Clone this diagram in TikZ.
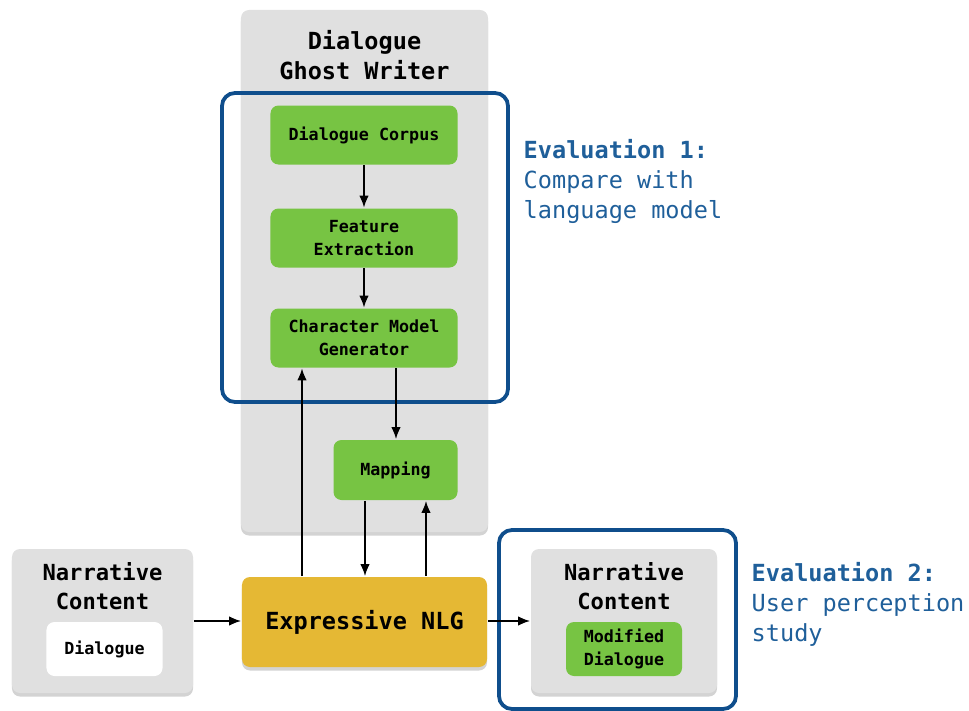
\documentclass[tikz,border=0pt]{standalone}
\usepackage{fontspec}
\setmonofont{DejaVu Sans Mono}
\usetikzlibrary{arrows.meta,shadows}
\definecolor{gwgray}{HTML}{E0E0E0}
\definecolor{stagegreen}{HTML}{77C443}
\definecolor{nlgyellow}{HTML}{E5B834}
\definecolor{evalblue}{HTML}{0F4E8C}
\definecolor{evaltxt}{HTML}{1F5F9A}
\newcommand{\bigmono}{\ttfamily\bfseries\fontsize{13.4}{17}\selectfont}
\newcommand{\midmono}{\ttfamily\bfseries\fontsize{12.6}{16.5}\selectfont}
\newcommand{\smallmono}{\ttfamily\bfseries\fontsize{9.5}{13}\selectfont}

\begin{document}
\begin{tikzpicture}[x=0.2mm,y=-0.2mm,line width=0.35mm,>={Latex[length=2.4mm,width=1.9mm]},
  box/.style={rounded corners=1.6mm,align=center,inner sep=0pt},
  grp/.style={box,fill=gwgray,drop shadow={shadow xshift=0mm,shadow yshift=-0.7mm,opacity=0.35}},
  stage/.style={box,fill=stagegreen,font=\smallmono,minimum width=37.4mm,minimum height=11.8mm},
  evalbox/.style={draw=evalblue,line width=0.75mm,rounded corners=2.6mm},
  evaltext/.style={anchor=west,align=left,text=evaltxt,font=\ttfamily\fontsize{13.4}{17}\selectfont}]
  \useasboundingbox (0,0) rectangle (969,711);
  % Ghost Writer
  \node[grp,minimum width=49.4mm,minimum height=104.4mm] (gw) at (364.5,271) {};
  \node[font=\bigmono,align=center] (gwtitle) at (364.5,55) {Dialogue\\Ghost Writer};
  \draw[evalbox] (222,93) rectangle (508,402);
  \node[stage] (corpus) at (364,135) {Dialogue Corpus};
  \node[stage] (feat) at (364,238) {Feature\\Extraction};
  \node[stage] (cm) at (364,338) {Character Model\\Generator};
  \node[stage,minimum width=24.8mm,minimum height=12mm] (map) at (395.5,470) {Mapping};
  % Expressive NLG
  \node[box,fill=nlgyellow,font=\bigmono,minimum width=49mm,minimum height=18mm,
        drop shadow={shadow xshift=0mm,shadow yshift=-0.7mm,opacity=0.35}] (nlg) at (364.5,622) {Expressive NLG};
  % narrative content, in and out
  \node[grp,minimum width=36.2mm,minimum height=28.8mm] (nc1) at (102.5,621) {};
  \node[font=\midmono,align=center] (nc1title) at (102.5,586) {Narrative\\Content};
  \node[box,fill=white,font=\smallmono,minimum width=23.2mm,minimum height=10.8mm] (dlg) at (104.5,649) {Dialogue};
  \draw[evalbox] (499,530) rectangle (736,709);
  \node[grp,minimum width=37.2mm,minimum height=28.8mm] (nc2) at (624,621) {};
  \node[font=\midmono,align=center] (nc2title) at (624,586) {Narrative\\Content};
  \node[stage,minimum width=23.2mm,minimum height=10.8mm] (mdlg) at (624,649) {Modified\\Dialogue};
  % evaluations
  \node[evaltext] (ev1txt) at (517,181.5) {\textbf{Evaluation 1:}\\Compare with\\language model};
  \node[evaltext] (ev2txt) at (745,604.5) {\textbf{Evaluation 2:}\\User perception\\study};
  % arrows
  \draw[->] (corpus) -- (feat); \draw[->] (feat) -- (cm);
  \draw[->] (cm.south -| 396,0) -- (map.north -| 396,0);
  \draw[->] (nlg.north -| 302,0) -- (cm.south -| 302,0);
  \draw[->] (map.south -| 365,0) -- (nlg.north -| 365,0);
  \draw[->] (nlg.north -| 426,0) -- (map.south -| 426,0);
  \draw[->] (nc1.east) -- (nlg.west |- nc1.east);
  \draw[->] (nlg.east |- nc2.west) -- (nc2.west);
\end{tikzpicture}
\end{document}
